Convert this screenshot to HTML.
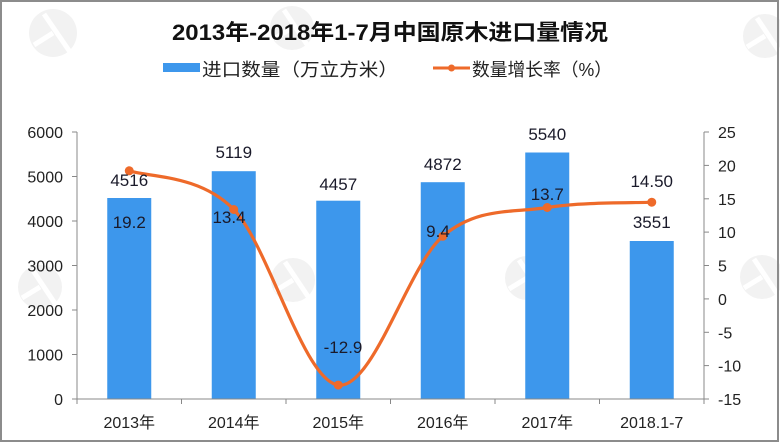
<!DOCTYPE html>
<html>
<head>
<meta charset="utf-8">
<style>
html,body{margin:0;padding:0;background:#fff;}
svg{display:block;}
</style>
</head>
<body>
<svg width="780" height="443" viewBox="0 0 780 443" xmlns="http://www.w3.org/2000/svg">
<rect x="0" y="0" width="780" height="443" fill="#ffffff"/>
<!-- faint watermarks -->
<g fill="#f2f2f2">
  <circle cx="53" cy="33" r="24"/>
  <circle cx="292" cy="28" r="22"/>
  <circle cx="765" cy="36" r="22"/>
  <circle cx="40" cy="287" r="22"/>
  <circle cx="293" cy="280" r="22"/>
  <circle cx="527" cy="278" r="22"/>
  <circle cx="762" cy="277" r="22"/>
</g>
<g stroke="#ffffff" stroke-width="5" fill="none">
  <path d="M44,14 L70,52 M53,33 L34,45"/>
  <path d="M284,10 L308,46 M292,28 L274,39"/>
  <path d="M757,18 L781,54 M765,36 L747,47"/>
  <path d="M32,269 L56,305 M40,287 L22,298"/>
  <path d="M285,262 L309,298 M293,280 L275,291"/>
  <path d="M519,260 L543,296 M527,278 L509,289"/>
  <path d="M754,259 L778,295 M762,277 L744,288"/>
</g>

<!-- Title -->
<text x="172" y="40" textLength="436" lengthAdjust="spacingAndGlyphs" font-family="'Liberation Sans','Noto Sans CJK SC',sans-serif" font-weight="bold" font-size="22" fill="#111">2013年-2018年1-7月中国原木进口量情况</text>

<!-- Legend -->
<rect x="163" y="63" width="37" height="9" fill="#3d97ec"/>
<text x="202" y="76" textLength="196" lengthAdjust="spacingAndGlyphs" font-family="'Liberation Sans','Noto Sans CJK SC',sans-serif" font-size="18" fill="#222">进口数量（万立方米）</text>
<line x1="433" y1="68" x2="470" y2="68" stroke="#ee6a2a" stroke-width="3"/>
<circle cx="451.5" cy="68" r="3.5" fill="#ee6a2a"/>
<text x="472" y="76" textLength="140" lengthAdjust="spacingAndGlyphs" font-family="'Liberation Sans','Noto Sans CJK SC',sans-serif" font-size="18" fill="#222">数量增长率（%）</text>

<!-- Bars -->
<g fill="#3d97ec">
  <rect x="107.25" y="198.0" width="44" height="201.0"/>
  <rect x="211.75" y="171.2" width="44" height="227.8"/>
  <rect x="316.25" y="200.7" width="44" height="198.3"/>
  <rect x="420.75" y="182.2" width="44" height="216.8"/>
  <rect x="525.25" y="152.5" width="44" height="246.5"/>
  <rect x="629.75" y="241.0" width="44" height="158.0"/>
</g>

<!-- Axes -->
<g stroke="#888" stroke-width="1" fill="none">
  <line x1="77" y1="132" x2="77" y2="399"/>
  <line x1="704" y1="132" x2="704" y2="399"/>
  <line x1="72" y1="399" x2="709" y2="399"/>
  <line x1="72" y1="132" x2="77" y2="132"/>
  <line x1="72" y1="176.5" x2="77" y2="176.5"/>
  <line x1="72" y1="221" x2="77" y2="221"/>
  <line x1="72" y1="265.5" x2="77" y2="265.5"/>
  <line x1="72" y1="310" x2="77" y2="310"/>
  <line x1="72" y1="354.5" x2="77" y2="354.5"/>
  <line x1="704" y1="132" x2="709" y2="132"/>
  <line x1="704" y1="165.4" x2="709" y2="165.4"/>
  <line x1="704" y1="198.8" x2="709" y2="198.8"/>
  <line x1="704" y1="232.1" x2="709" y2="232.1"/>
  <line x1="704" y1="265.5" x2="709" y2="265.5"/>
  <line x1="704" y1="298.9" x2="709" y2="298.9"/>
  <line x1="704" y1="332.3" x2="709" y2="332.3"/>
  <line x1="704" y1="365.6" x2="709" y2="365.6"/>
  <line x1="77" y1="399" x2="77" y2="404"/>
  <line x1="181.5" y1="399" x2="181.5" y2="404"/>
  <line x1="286" y1="399" x2="286" y2="404"/>
  <line x1="390.5" y1="399" x2="390.5" y2="404"/>
  <line x1="495" y1="399" x2="495" y2="404"/>
  <line x1="599.5" y1="399" x2="599.5" y2="404"/>
  <line x1="704" y1="399" x2="704" y2="404"/>
</g>

<!-- Left axis labels -->
<g font-family="'Liberation Sans',sans-serif" font-size="16" fill="#222" text-anchor="end">
  <text x="63" y="138">6000</text>
  <text x="63" y="182.5">5000</text>
  <text x="63" y="227">4000</text>
  <text x="63" y="271.5">3000</text>
  <text x="63" y="316">2000</text>
  <text x="63" y="360.5">1000</text>
  <text x="63" y="405">0</text>
</g>
<!-- Right axis labels -->
<g font-family="'Liberation Sans',sans-serif" font-size="16" fill="#222">
  <text x="718" y="138">25</text>
  <text x="718" y="171.4">20</text>
  <text x="718" y="204.8">15</text>
  <text x="718" y="238.1">10</text>
  <text x="718" y="271.5">5</text>
  <text x="718" y="304.9">0</text>
  <text x="718" y="338.3">-5</text>
  <text x="718" y="371.6">-10</text>
  <text x="718" y="405">-15</text>
</g>
<!-- Category labels -->
<g font-family="'Liberation Sans','Noto Sans CJK SC',sans-serif" font-size="16" fill="#222" text-anchor="middle">
  <text x="129.25" y="428">2013年</text>
  <text x="233.75" y="428">2014年</text>
  <text x="338.25" y="428">2015年</text>
  <text x="442.75" y="428">2016年</text>
  <text x="547.25" y="428">2017年</text>
  <text x="651.75" y="428">2018.1-7</text>
</g>

<!-- Line -->
<path d="M129.25,170.8 C146.67,177.25 198.92,173.78 233.75,209.5 C268.58,245.22 303.42,380.63 338.25,385.1 C373.08,389.57 407.92,265.9 442.75,236.3 C477.58,206.7 512.42,213.18 547.25,207.5 C582.08,201.82 634.33,203.08 651.75,202.2" fill="none" stroke="#ee6a2a" stroke-width="3.2" stroke-linecap="round"/>
<g fill="#ee6a2a">
  <circle cx="129.25" cy="170.8" r="4.5"/>
  <circle cx="233.75" cy="209.5" r="4.5"/>
  <circle cx="338.25" cy="385.1" r="4.5"/>
  <circle cx="442.75" cy="236.3" r="4.5"/>
  <circle cx="547.25" cy="207.5" r="4.5"/>
  <circle cx="651.75" cy="202.2" r="4.5"/>
</g>

<!-- Data labels -->
<g font-family="'Liberation Sans',sans-serif" font-size="17" fill="#1a1a2a" text-anchor="middle">
  <text x="129.25" y="186">4516</text>
  <text x="233.75" y="158">5119</text>
  <text x="338.25" y="190">4457</text>
  <text x="442.75" y="170">4872</text>
  <text x="547.25" y="140">5540</text>
  <text x="651.75" y="228">3551</text>
  <text x="129.25" y="228">19.2</text>
  <text x="229" y="223">13.4</text>
  <text x="343" y="353">-12.9</text>
  <text x="438" y="237">9.4</text>
  <text x="547.25" y="200">13.7</text>
  <text x="651.75" y="187">14.50</text>
</g>

<!-- Border -->
<rect x="1" y="1" width="777" height="440" fill="none" stroke="#8c8c8c" stroke-width="2"/>
</svg>
</body>
</html>
